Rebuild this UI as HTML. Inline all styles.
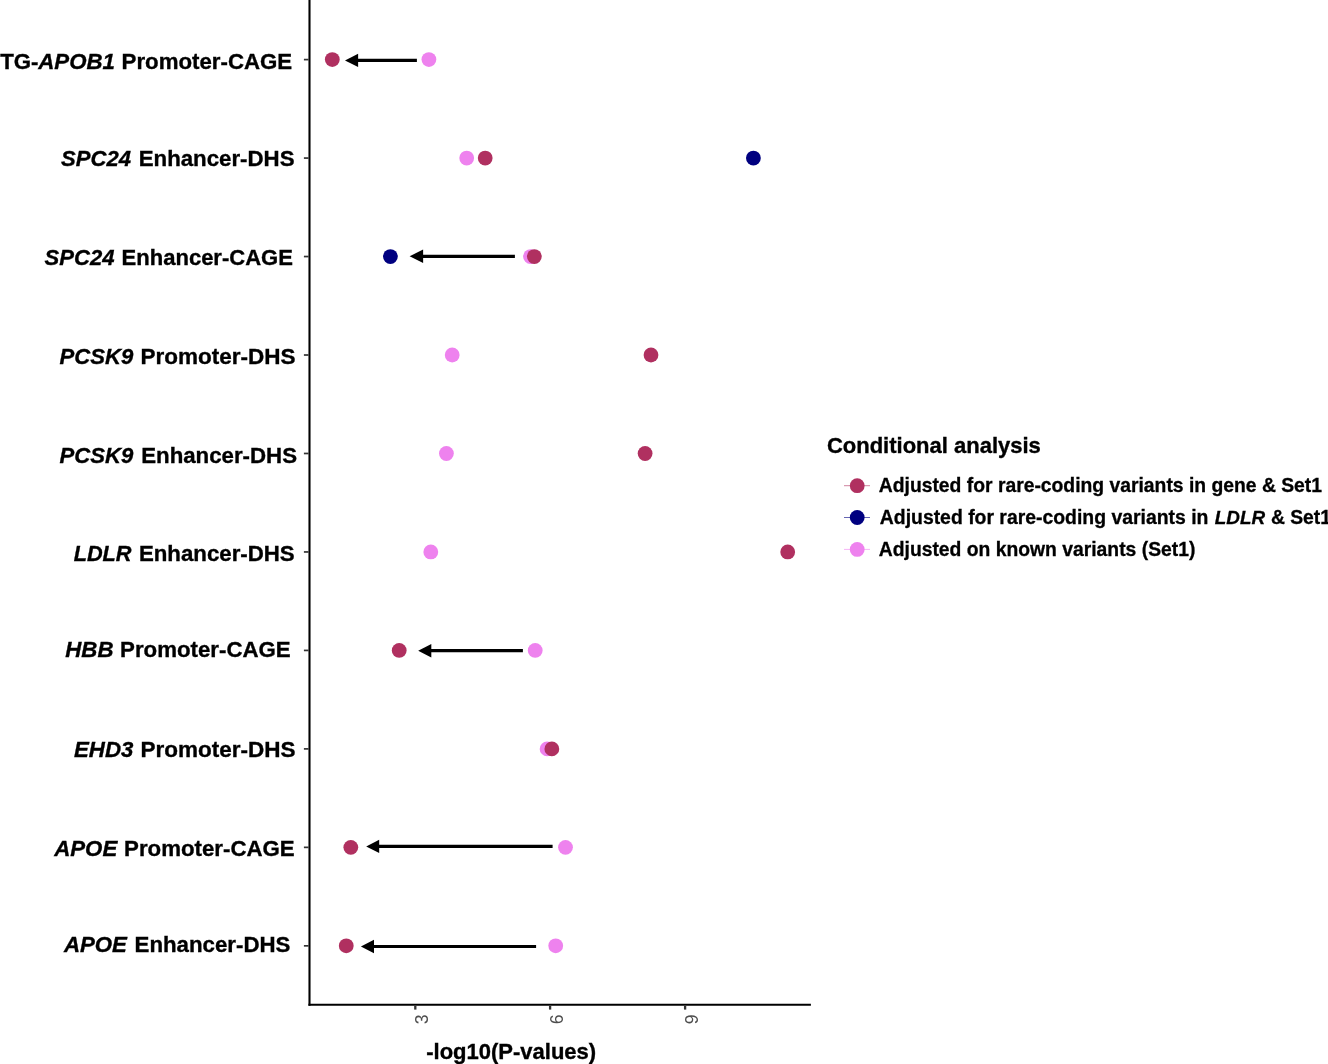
<!DOCTYPE html>
<html><head><meta charset="utf-8"><title>Conditional analysis</title>
<style>
html,body{margin:0;padding:0;background:#fff;}
svg{display:block;will-change:transform;font-family:"Liberation Sans",sans-serif;}
.yl{font-size:22.25px;font-weight:bold;fill:#000;stroke:#000;stroke-width:0.35px;}
.i{font-style:italic;}
.e{text-anchor:end;}
.lg{font-size:19.32px;font-weight:bold;fill:#000;stroke:#000;stroke-width:0.3px;}
.tk{font-size:17.6px;fill:#4d4d4d;}
.ti{font-size:22px;font-weight:bold;fill:#000;stroke:#000;stroke-width:0.35px;}
</style></head>
<body>
<svg width="1328" height="1064" viewBox="0 0 1328 1064">
<rect width="1328" height="1064" fill="#fff"/>
<g stroke="#000" stroke-width="2.1" fill="none">
<line x1="309.5" y1="0" x2="309.5" y2="1005.8"/>
<line x1="308.45" y1="1004.8" x2="810.9" y2="1004.8"/>
</g>
<g stroke="#333" stroke-width="1.7">
<line x1="303.9" x2="308.6" y1="59.60" y2="59.60"/>
<line x1="303.9" x2="308.6" y1="158.07" y2="158.07"/>
<line x1="303.9" x2="308.6" y1="256.54" y2="256.54"/>
<line x1="303.9" x2="308.6" y1="355.01" y2="355.01"/>
<line x1="303.9" x2="308.6" y1="453.48" y2="453.48"/>
<line x1="303.9" x2="308.6" y1="551.95" y2="551.95"/>
<line x1="303.9" x2="308.6" y1="650.42" y2="650.42"/>
<line x1="303.9" x2="308.6" y1="748.89" y2="748.89"/>
<line x1="303.9" x2="308.6" y1="847.36" y2="847.36"/>
<line x1="303.9" x2="308.6" y1="945.83" y2="945.83"/>
</g>
<g stroke="#333" stroke-width="2.3">
<line x1="415.3" x2="415.3" y1="1005.8" y2="1009.6"/>
<line x1="550.1" x2="550.1" y1="1005.8" y2="1009.6"/>
<line x1="685.1" x2="685.1" y1="1005.8" y2="1009.6"/>
</g>
<g class="tk">
<text transform="translate(427.7,1024.3) rotate(-90)">3</text>
<text transform="translate(562.6,1024.3) rotate(-90)">6</text>
<text transform="translate(697.5,1024.3) rotate(-90)">9</text>
</g>
<text class="ti" x="426.20" y="1059.3">-log10(P-values)</text>
<g class="yl">
<text id="p0" x="0.20" y="68.7">TG-</text>
<text id="i0" class="i" x="38.30" y="68.7">APOB1</text>
<text id="e0" class="e" x="292.20" y="68.7">Promoter-CAGE</text>
<text id="i1" class="i" x="61.10" y="166.1" font-size="22.06px">SPC24</text>
<text id="e1" class="e" x="294.50" y="166.1">Enhancer-DHS</text>
<text id="i2" class="i" x="44.60" y="264.7" font-size="22.06px">SPC24</text>
<text id="e2" class="e" x="292.90" y="264.7" font-size="22.03px">Enhancer-CAGE</text>
<text id="i3" class="i" x="59.60" y="363.6" font-size="22.1px">PCSK9</text>
<text id="e3" class="e" x="295.50" y="363.6" font-size="22.51px">Promoter-DHS</text>
<text id="i4" class="i" x="59.60" y="462.5" font-size="22.1px">PCSK9</text>
<text id="e4" class="e" x="297.00" y="462.5">Enhancer-DHS</text>
<text id="i5" class="i" x="73.70" y="561.0" font-size="21.7px">LDLR</text>
<text id="e5" class="e" x="294.70" y="561.0">Enhancer-DHS</text>
<text id="i6" class="i" x="65.30" y="656.9">HBB</text>
<text id="e6" class="e" x="290.70" y="656.9">Promoter-CAGE</text>
<text id="i7" class="i" x="74.00" y="757.2">EHD3</text>
<text id="e7" class="e" x="295.50" y="757.2" font-size="22.51px">Promoter-DHS</text>
<text id="i8" class="i" x="54.20" y="855.8">APOE</text>
<text id="e8" class="e" x="294.70" y="855.8">Promoter-CAGE</text>
<text id="i9" class="i" x="63.90" y="951.8">APOE</text>
<text id="e9" class="e" x="290.40" y="951.8">Enhancer-DHS</text>
</g>
<g stroke="#000" stroke-width="3.2">
<line x1="357.1" x2="416.9" y1="60.4" y2="60.4"/>
<line x1="422.1" x2="514.9" y1="256.3" y2="256.3"/>
<line x1="430.3" x2="522.9" y1="650.7" y2="650.7"/>
<line x1="378.2" x2="552.6" y1="846.4" y2="846.4"/>
<line x1="373.0" x2="536.1" y1="946.5" y2="946.5"/>
</g><g fill="#000">
<polygon points="345.0,60.4 358.1,53.7 358.1,67.1"/>
<polygon points="409.6,256.3 423.1,249.6 423.1,263.0"/>
<polygon points="418.2,650.7 431.3,644.0 431.3,657.4"/>
<polygon points="366.2,846.4 379.2,839.7 379.2,853.1"/>
<polygon points="360.9,946.5 374.0,939.8 374.0,953.2"/>
</g>
<g>
<circle cx="428.90" cy="59.60" r="7.4" fill="#ee82ee"/>
<circle cx="332.30" cy="59.60" r="7.4" fill="#b03060"/>
<circle cx="466.70" cy="158.07" r="7.4" fill="#ee82ee"/>
<circle cx="485.20" cy="158.07" r="7.4" fill="#b03060"/>
<circle cx="753.40" cy="158.07" r="7.4" fill="#000080"/>
<circle cx="390.40" cy="256.54" r="7.4" fill="#000080"/>
<circle cx="530.50" cy="256.54" r="7.4" fill="#ee82ee"/>
<circle cx="534.35" cy="256.54" r="7.4" fill="#b03060"/>
<circle cx="452.20" cy="355.01" r="7.4" fill="#ee82ee"/>
<circle cx="651.00" cy="355.01" r="7.4" fill="#b03060"/>
<circle cx="446.40" cy="453.48" r="7.4" fill="#ee82ee"/>
<circle cx="645.10" cy="453.48" r="7.4" fill="#b03060"/>
<circle cx="430.80" cy="551.95" r="7.4" fill="#ee82ee"/>
<circle cx="787.70" cy="551.95" r="7.4" fill="#b03060"/>
<circle cx="535.20" cy="650.42" r="7.4" fill="#ee82ee"/>
<circle cx="399.20" cy="650.42" r="7.4" fill="#b03060"/>
<circle cx="547.10" cy="748.89" r="7.4" fill="#ee82ee"/>
<circle cx="551.85" cy="748.89" r="7.4" fill="#b03060"/>
<circle cx="565.50" cy="847.36" r="7.4" fill="#ee82ee"/>
<circle cx="350.80" cy="847.36" r="7.4" fill="#b03060"/>
<circle cx="555.70" cy="945.83" r="7.4" fill="#ee82ee"/>
<circle cx="346.25" cy="945.83" r="7.4" fill="#b03060"/>
</g>
<text class="ti" x="826.90" y="453.2">Conditional analysis</text>
<g stroke-width="0.6">
<line x1="844" x2="870" y1="485.7" y2="485.7" stroke="#b03060"/>
<line x1="844" x2="870" y1="517.5" y2="517.5" stroke="#000080"/>
<line x1="844" x2="870" y1="549.4" y2="549.4" stroke="#ee82ee"/>
</g>
<circle cx="857.2" cy="485.7" r="7.4" fill="#b03060"/>
<circle cx="857.2" cy="517.5" r="7.4" fill="#000080"/>
<circle cx="857.2" cy="549.4" r="7.4" fill="#ee82ee"/>
<g class="lg">
<text x="878.80" y="492.1">Adjusted for rare-coding variants in gene &amp; Set1</text>
<text x="879.80" y="523.9" font-size="19.4px">Adjusted for rare-coding variants in</text>
<text class="i" x="1214.80" y="523.9" font-size="18.85px">LDLR</text>
<text x="1270.90" y="523.9">&amp; Set1</text>
<text x="878.80" y="555.8">Adjusted on known variants (Set1)</text>
</g>
</svg>
</body></html>
